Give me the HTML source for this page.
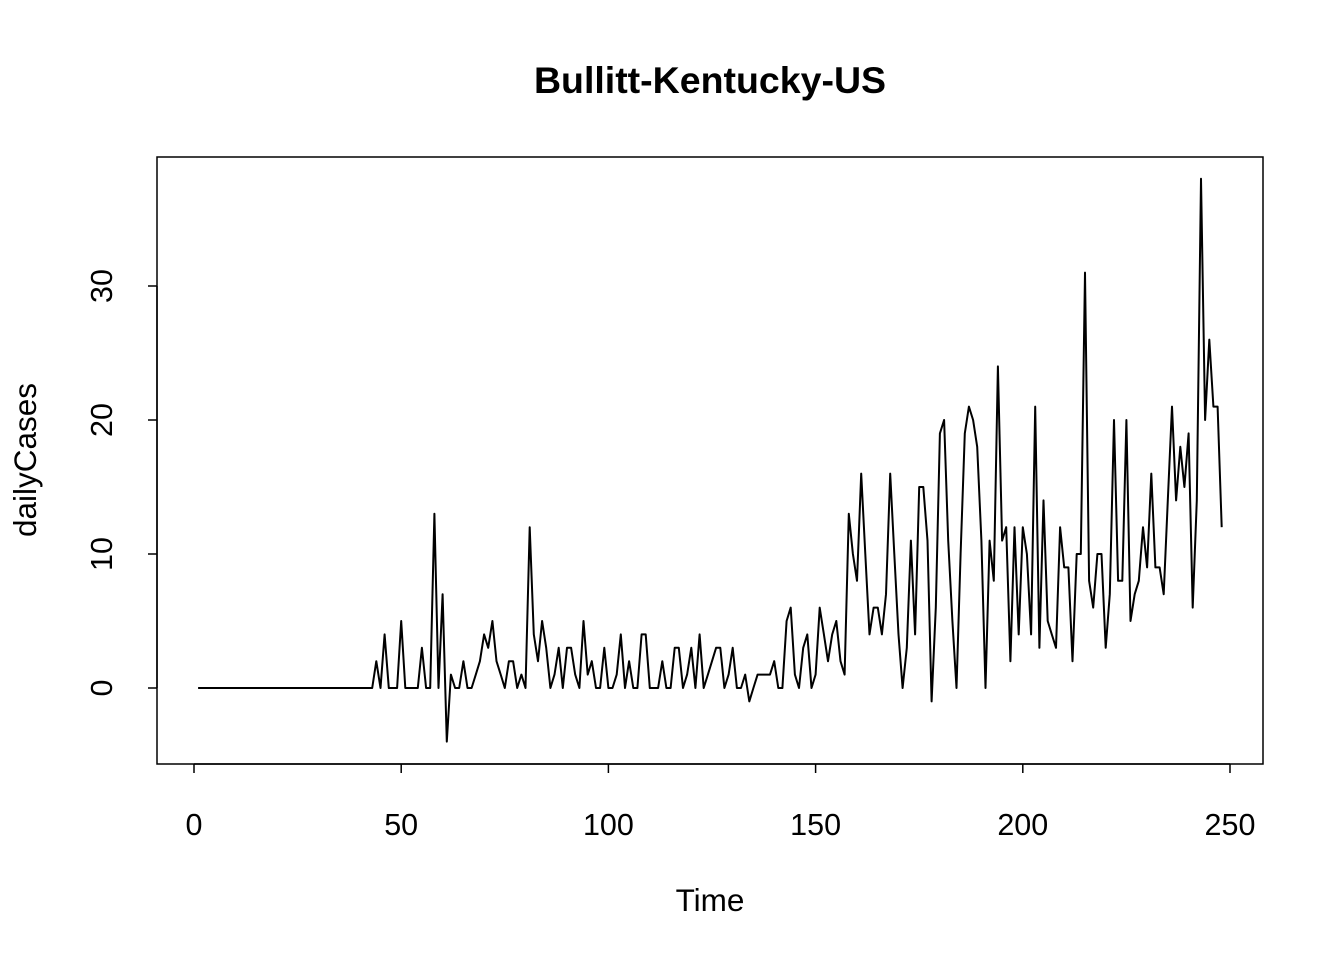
<!DOCTYPE html>
<html><head><meta charset="utf-8"><style>
body{margin:0;background:#fff;}
svg{display:block;font-family:"Liberation Sans",Arial,sans-serif;}
</style></head><body>
<svg id="chart" width="1344" height="960">
<text x="710" y="93" text-anchor="middle" font-size="37.5" font-weight="bold">Bullitt-Kentucky-US</text>
<rect x="157" y="157" width="1106" height="607" fill="none" stroke="#000" stroke-width="1.5"/>
<g id="xaxis"></g>
<g id="yaxis"></g>
<text x="710" y="911" text-anchor="middle" font-size="31.5">Time</text>
<text transform="translate(36,460) rotate(-90)" text-anchor="middle" font-size="31.5">dailyCases</text>
<path id="line" fill="none" stroke="#000" stroke-width="2" stroke-linejoin="round"/>
</svg>
<script>
const xTicks=[0,50,100,150,200,250];
const yTicks=[0,10,20,30];
const startTime=1;
const dailyCases=[
0,0,0,0,0,0,0,0,0,0,0,0,0,0,0,0,0,0,0,0,0,0,0,0,0,0,0,0,0,0,0,0,0,0,0,0,0,0,0,0,0,0,0,
2,0,4,0,0,0,5,0,0,0,0,3,0,0,13,0,7,-4,1,0,0,2,0,0,1,2,4,3,5,2,1,0,2,2,0,1,0,
12,4,2,5,3,0,1,3,0,3,3,1,0,5,1,2,0,0,3,0,0,1,4,0,2,0,0,4,4,0,0,0,2,0,0,3,3,0,1,3,0,4,0,1,2,3,3,0,1,3,0,0,1,-1,0,1,1,1,1,2,0,0,5,6,1,0,3,4,0,1,
6,4,2,4,5,2,1,13,10,8,16,10,4,6,6,4,7,16,10,4,0,3,11,4,15,15,11,-1,6,19,20,11,5,0,10,19,21,20,18,11,0,11,8,24,11,12,2,12,4,12,10,4,21,3,14,5,4,3,12,9,9,2,10,10,31,8,6,10,10,3,7,20,8,8,20,5,7,8,12,9,16,9,9,7,14,21,14,18,15,19,6,14,38,20,26,21,21,12];
const X=v=>194+(v)*(1230-194)/250;
const Y=v=>688-v*(688-286)/30;
const NS="http://www.w3.org/2000/svg";
const xa=document.getElementById('xaxis'),ya=document.getElementById('yaxis');
function mk(t,a){const e=document.createElementNS(NS,t);for(const k in a)e.setAttribute(k,a[k]);return e;}
let ax=mk('line',{x1:X(xTicks[0]),x2:X(xTicks[xTicks.length-1]),y1:764,y2:764,stroke:'#000','stroke-width':1.5});


xa.appendChild(ax);
xTicks.forEach(t=>{
 const l=mk('line',{x1:X(t),x2:X(t),y1:764,y2:773,stroke:'#000','stroke-width':1.5});
 
 
 xa.appendChild(l);
 const tx=mk('text',{x:X(t),y:835,'text-anchor':'middle','font-size':30.5});
 tx.textContent=t;
 
 
 xa.appendChild(tx);
});
let ay=mk('line',{x1:157,x2:157,y1:Y(yTicks[0]),y2:Y(yTicks[yTicks.length-1]),stroke:'#000','stroke-width':1.5});


ya.appendChild(ay);
yTicks.forEach(t=>{
 const l=mk('line',{x1:148,x2:157,y1:Y(t),y2:Y(t),stroke:'#000','stroke-width':1.5});
 
 
 ya.appendChild(l);
 const tx=mk('text',{transform:`translate(112,${Y(t)}) rotate(-90)`,'text-anchor':'middle','font-size':30.5});
 tx.textContent=t;
 
 
 ya.appendChild(tx);
});
document.getElementById('line').setAttribute('d',dailyCases.map((v,i)=>(i?'L':'M')+X(startTime+i).toFixed(1)+' '+Y(v).toFixed(1)).join(''));
</script>
</body></html>
